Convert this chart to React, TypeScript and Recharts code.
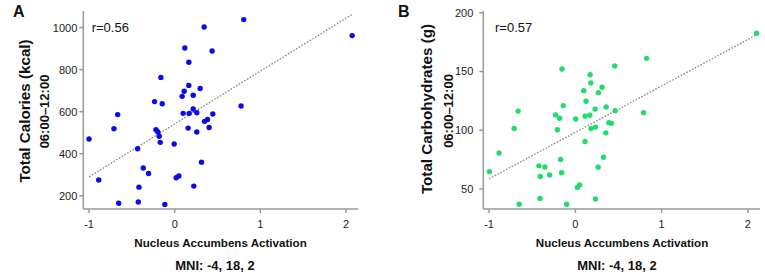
import React from 'react';
import { ReferenceLine, Scatter, ScatterChart, XAxis, YAxis } from 'recharts';

// Panel A: nucleus accumbens activation vs total calories (06:00-12:00)
const activationA = [
  -1.0, -0.887, -0.709, -0.666, -0.654, -0.433, -0.417, -0.425, -0.367, -0.305,
  -0.235, -0.219, -0.196, -0.181, -0.169, -0.161, -0.146, -0.115, -0.006, 0.017,
  0.049, 0.087, 0.099, 0.111, 0.118, 0.157, 0.165, 0.165, 0.169, 0.216,
  0.216, 0.223, 0.258, 0.258, 0.297, 0.313, 0.344, 0.348, 0.383, 0.402,
  0.437, 0.445, 0.775, 0.806, 2.072
];
const caloriesA = [
  470, 275, 519, 586, 164, 424, 241, 170, 332, 306,
  648, 514, 503, 483, 454, 763, 638, 159, 446, 286,
  294, 673, 592, 697, 903, 522, 835, 725, 592, 678,
  613, 246, 595, 503, 710, 360, 1003, 554, 563, 525,
  889, 589, 627, 1038, 962
];
const fitA = [
  { x: -1, y: 290 },
  { x: 2.07, y: 1062 }
];

// Panel B: nucleus accumbens activation vs total carbohydrates
const activationB = [
  -0.996, -0.884, -0.709, -0.663, -0.651, -0.422, -0.407, -0.411, -0.353, -0.298,
  -0.229, -0.182, -0.209, -0.171, -0.159, -0.155, -0.14, -0.101, 0.004, 0.023,
  0.05, 0.097, 0.112, 0.112, 0.124, 0.167, 0.171, 0.178, 0.182, 0.233,
  0.229, 0.233, 0.267, 0.264, 0.31, 0.326, 0.357, 0.353, 0.388, 0.419,
  0.457, 0.461, 0.791, 0.826, 2.101
];
const carbsB = [
  64.8, 80.7, 101.5, 116.3, 37, 69.7, 60.7, 42, 68.8, 61.9,
  113.1, 110.2, 100.4, 75.2, 63.9, 152.2, 121, 37, 109.6, 51.4,
  53.5, 133.7, 90.5, 112, 124.7, 112.8, 147.3, 140.3, 101.5, 102.7,
  118, 41.6, 132, 68.5, 136.6, 77, 119.8, 97.8, 106.5, 105.9,
  154.8, 116.6, 114.9, 161.2, 182.6
];
const fitB = [
  { x: -1, y: 58.7 },
  { x: 2.1, y: 181.2 }
];

const xTicks = [-1, 0, 1, 2];
const yTicksA = [200, 400, 600, 800, 1000];
const yTicksB = [50, 100, 150, 200];

const font = '"Liberation Sans", Arial, sans-serif';
const axisGrey = '#9a9a9a';

const zip = (xs: number[], ys: number[]) => xs.map((x, i) => ({ x, y: ys[i] }));

function Dot(props: any) {
  return <circle cx={props.cx} cy={props.cy} r={2.7} fill={props.fill} />;
}

function Panel(props: {
  left: number;
  yAxisWidth: number;
  rightMargin: number;
  tickMargin: number;
  yDomain: [number, number];
  yTicks: number[];
  points: { x: number; y: number }[];
  fit: { x: number; y: number }[];
  color: string;
}) {
  const tick = { fontSize: 11, fill: '#222', fontFamily: font };
  return (
    <div style={{ position: 'absolute', left: props.left, top: 0 }}>
      <ScatterChart
        width={380}
        height={274}
        margin={{ top: 11, right: props.rightMargin, left: 0, bottom: 35 }}
      >
        <XAxis
          type="number"
          dataKey="x"
          domain={[-1.067, 2.14]}
          ticks={xTicks}
          height={30}
          tick={tick}
          tickSize={4}
          tickMargin={7}
          stroke={axisGrey}
          strokeWidth={1.5}
          allowDataOverflow
        />
        <YAxis
          type="number"
          dataKey="y"
          domain={props.yDomain}
          ticks={props.yTicks}
          width={props.yAxisWidth}
          tick={tick}
          tickSize={4}
          tickMargin={props.tickMargin}
          stroke={axisGrey}
          strokeWidth={1.5}
          allowDataOverflow
        />
        <ReferenceLine
          segment={props.fit}
          stroke="#888"
          strokeWidth={1.3}
          strokeDasharray="1.6 1.6"
        />
        <Scatter
          data={props.points}
          fill={props.color}
          shape={<Dot />}
          isAnimationActive={false}
        />
      </ScatterChart>
    </div>
  );
}

export default function App() {
  const bold = { fontFamily: font, fontWeight: 700, fill: '#111' } as const;
  return (
    <div style={{ position: 'absolute', left: 0, top: 0, width: 765, height: 274, background: '#fff' }}>
      <Panel
        left={0}
        yAxisWidth={83.3}
        rightMargin={22}
        tickMargin={2}
        yDomain={[137, 1079]}
        yTicks={yTicksA}
        points={zip(activationA, caloriesA)}
        fit={fitA}
        color="#0a0ae6"
      />
      <Panel
        left={385}
        yAxisWidth={98.3}
        rightMargin={5}
        tickMargin={6}
        yDomain={[33, 201.5]}
        yTicks={yTicksB}
        points={zip(activationB, carbsB)}
        fit={fitB}
        color="#1fdc6c"
      />
      <svg
        width={765}
        height={274}
        style={{ position: 'absolute', left: 0, top: 0, pointerEvents: 'none' }}
      >
        {/* panel A labels */}
        <text x={13} y={17} fontSize={16} {...bold}>A</text>
        <text transform="translate(30.3,111) rotate(-90)" textAnchor="middle" fontSize={15.2} {...bold}>
          Total Calories (kcal)
        </text>
        <text transform="translate(49,111.5) rotate(-90)" textAnchor="middle" fontSize={13} {...bold}>
          06:00–12:00
        </text>
        <text x={91.7} y={31.5} fontSize={13} fontFamily={font} fill="#111">r=0.56</text>
        <text x={220.5} y={247} textAnchor="middle" fontSize={11.6} {...bold}>
          Nucleus Accumbens Activation
        </text>
        <text x={215} y={270} textAnchor="middle" fontSize={13} {...bold}>MNI: -4, 18, 2</text>

        {/* panel B labels */}
        <text x={398} y={17} fontSize={16} {...bold}>B</text>
        <text transform="translate(432,109) rotate(-90)" textAnchor="middle" fontSize={15.2} {...bold}>
          Total Carbohydrates (g)
        </text>
        <text transform="translate(453,111) rotate(-90)" textAnchor="middle" fontSize={13} {...bold}>
          06:00–12:00
        </text>
        <text x={495} y={31.5} fontSize={13} fontFamily={font} fill="#111">r=0.57</text>
        <text x={622} y={247} textAnchor="middle" fontSize={11.6} {...bold}>
          Nucleus Accumbens Activation
        </text>
        <text x={617} y={270} textAnchor="middle" fontSize={13} {...bold}>MNI: -4, 18, 2</text>
      </svg>
    </div>
  );
}
